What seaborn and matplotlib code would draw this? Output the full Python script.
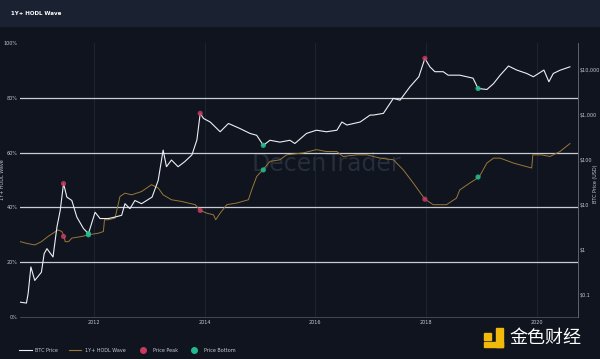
import numpy as np
import pandas as pd
import matplotlib
matplotlib.use("Agg")
import matplotlib.pyplot as plt
from matplotlib.lines import Line2D
from matplotlib.patches import Rectangle
import seaborn as sns

# BTC price (USD)
price_year = [2010.67, 2010.78, 2010.81, 2010.86, 2010.93, 2011.05, 2011.10, 2011.15, 2011.26, 2011.33,
              2011.39, 2011.45, 2011.51, 2011.60, 2011.69, 2011.81, 2011.90, 2012.02, 2012.11, 2012.26,
              2012.38, 2012.50, 2012.56, 2012.65, 2012.74, 2012.86, 2013.05, 2013.16, 2013.25, 2013.31,
              2013.40, 2013.52, 2013.64, 2013.77, 2013.86, 2013.92, 2013.98, 2014.10, 2014.28, 2014.43,
              2014.64, 2014.82, 2014.94, 2015.06, 2015.18, 2015.36, 2015.54, 2015.63, 2015.84, 2016.02,
              2016.20, 2016.39, 2016.48, 2016.57, 2016.81, 2016.99, 2017.05, 2017.23, 2017.41, 2017.53,
              2017.71, 2017.87, 2017.98, 2018.07, 2018.16, 2018.31, 2018.40, 2018.61, 2018.85, 2018.94,
              2019.10, 2019.22, 2019.34, 2019.49, 2019.64, 2019.82, 2019.94, 2020.13, 2020.22, 2020.30,
              2020.42, 2020.60]
price_usd = [0.069, 0.066, 0.107, 0.42, 0.21, 0.32, 0.83, 1.07, 0.70, 3.2,
             7.6, 30, 15, 12.6, 5.4, 3.0, 2.3, 6.9, 5.0, 5.0,
             5.4, 5.9, 10.7, 8.3, 12.6, 10.7, 15, 35, 166, 71,
             100, 71, 92, 130, 280, 1090, 840, 700, 425, 650,
             500, 390, 355, 212, 275, 250, 275, 233, 390, 460,
             425, 460, 700, 600, 700, 1000, 1000, 1090, 2350, 2140,
             4250, 7100, 18200, 11800, 9200, 9200, 7700, 7700, 6600, 3900,
             3700, 5000, 7700, 12300, 10000, 8400, 7100, 10000, 5500, 8400,
             9900, 11800]

# 1Y+ HODL wave (%)
hodl_year = [2010.67, 2010.78, 2010.93, 2011.05, 2011.17, 2011.35, 2011.42, 2011.46, 2011.48, 2011.54,
             2011.60, 2011.78, 2011.90, 2012.08, 2012.17, 2012.19, 2012.26, 2012.38, 2012.47, 2012.56,
             2012.68, 2012.86, 2013.04, 2013.16, 2013.25, 2013.40, 2013.58, 2013.83, 2013.92, 2014.04,
             2014.16, 2014.20, 2014.28, 2014.40, 2014.58, 2014.79, 2014.85, 2014.94, 2015.05, 2015.18,
             2015.36, 2015.48, 2015.78, 2016.02, 2016.20, 2016.39, 2016.50, 2016.75, 2016.93, 2017.17,
             2017.41, 2017.59, 2017.77, 2017.98, 2018.13, 2018.37, 2018.55, 2018.61, 2018.79, 2018.96,
             2019.10, 2019.22, 2019.34, 2019.58, 2019.76, 2019.91, 2019.93, 2020.09, 2020.24, 2020.42,
             2020.60]
hodl_pct = [27.5, 26.9, 26.3, 27.5, 29.4, 31.8, 31.2, 29.4, 27.5, 27.5,
            28.8, 29.4, 30.0, 30.6, 31.2, 35.5, 35.5, 36.1, 44.0, 45.2,
            44.6, 45.8, 48.3, 47.1, 44.6, 42.8, 42.2, 41.0, 38.9, 37.9,
            37.3, 35.5, 37.9, 41.0, 41.6, 42.8, 46.4, 51.3, 53.7, 56.8,
            57.4, 59.2, 59.9, 61.1, 60.4, 60.4, 58.6, 59.2, 59.2, 58.0,
            57.4, 53.7, 48.9, 43.0, 41.0, 41.0, 43.4, 46.4, 48.9, 51.1,
            56.2, 58.0, 58.0, 56.2, 55.2, 54.4, 59.2, 59.2, 58.6, 60.4,
            63.3]

# cycle peaks and bottoms
peak_year = [2011.45, 2013.92, 2017.98]
peak_price = [30, 1090, 18200]
peak_hodl = [29.4, 38.9, 43.0]
bottom_year = [2011.90, 2015.06, 2018.94]
bottom_price = [2.3, 212, 3900]
bottom_hodl = [30.0, 53.7, 51.1]

year_ticks = [2012, 2014, 2016, 2018, 2020]
pct_ticks = [0, 20, 40, 60, 80, 100]
price_ticks = [0.1, 1, 10, 100, 1000, 10000]
price_labels = ["$0.1", "$1", "$10", "$100", "$1,000", "$10,000"]

bg = "#0f141e"
txt = "#c4c8d0"
peak_c = "#c83a60"
bottom_c = "#22b98c"

df_price = pd.DataFrame({"year": price_year, "price": price_usd})
df_hodl = pd.DataFrame({"year": hodl_year, "hodl": hodl_pct})

fig = plt.figure(figsize=(6, 3.59), dpi=100, facecolor=bg)
fig.patches.append(Rectangle((0, 0.927), 1, 0.073, transform=fig.transFigure,
                             color="#1a2232", zorder=0))
fig.text(0.018, 0.962, "1Y+ HODL Wave", color="white", fontsize=4,
         fontweight="bold", va="center")

ax = fig.add_axes([0.0333, 0.117, 0.93, 0.763])
ax.set_facecolor(bg)
ax2 = ax.twinx()

# watermark
ax.text(0.55, 0.558, "DecenTrader", transform=ax.transAxes, color="#262d3b",
        fontsize=17, ha="center", va="center", zorder=0)

sns.lineplot(data=df_hodl, x="year", y="hodl", ax=ax, color="#9a7838",
             linewidth=0.7, zorder=3)
sns.scatterplot(x=peak_year, y=peak_hodl, ax=ax, color=peak_c, s=14,
                alpha=0.85, edgecolor="none", zorder=4)
sns.scatterplot(x=bottom_year, y=bottom_hodl, ax=ax, color=bottom_c, s=14,
                alpha=0.9, edgecolor="none", zorder=4)

sns.lineplot(data=df_price, x="year", y="price", ax=ax2, color="#eceef2",
             linewidth=0.8, zorder=3)
sns.scatterplot(x=peak_year, y=peak_price, ax=ax2, color=peak_c, s=14,
                alpha=0.85, edgecolor="none", zorder=4)
sns.scatterplot(x=bottom_year, y=bottom_price, ax=ax2, color=bottom_c, s=14,
                alpha=0.9, edgecolor="none", zorder=4)

ax.set_xlim(2010.663, 2020.746)
ax.set_ylim(0, 100)
ax2.set_yscale("log")
ax2.set_ylim(10 ** -1.49, 10 ** 4.6)

ax.set_xticks(year_ticks)
ax.set_xticklabels([str(y) for y in year_ticks])
ax.set_yticks(pct_ticks)
ax.set_yticklabels([f"{p}%" for p in pct_ticks])
ax2.set_yticks(price_ticks)
ax2.set_yticklabels(price_labels)
ax2.minorticks_off()

ax.grid(axis="y", color="#c8ccd4", linewidth=0.9)
ax.grid(axis="x", color="#1d2431", linewidth=0.8)
gls = ax.yaxis.get_gridlines()
gls[0].set_visible(False)
gls[-1].set_visible(False)
ax.set_axisbelow(True)

for a in (ax, ax2):
    a.tick_params(length=0, labelsize=3.5, colors=txt)
    for s in a.spines.values():
        s.set_visible(False)
    a.set_xlabel("")
ax.tick_params(axis="y", pad=2)
ax.tick_params(axis="x", pad=2.5)
ax2.tick_params(axis="y", pad=1.5)
ax2.spines["right"].set_visible(True)
ax2.spines["right"].set_color("#6a7080")
ax2.spines["right"].set_linewidth(0.6)
ax.spines["bottom"].set_visible(True)
ax.spines["bottom"].set_color("#4a5060")
ax.spines["bottom"].set_linewidth(0.6)

ax.set_ylabel("1Y+ HODL Wave", fontsize=3.5, color=txt)
ax.yaxis.set_label_coords(-0.026, 0.5)
ax2.set_ylabel("BTC Price (USD)", fontsize=3.5, color=txt)
ax2.yaxis.set_label_coords(1.027, 0.485)

handles = [Line2D([], [], color="#eceef2", linewidth=0.8),
           Line2D([], [], color="#9a7838", linewidth=0.8),
           Line2D([], [], marker="o", linestyle="", color=peak_c, markersize=4),
           Line2D([], [], marker="o", linestyle="", color=bottom_c, markersize=4)]
fig.legend(handles, ["BTC Price", "1Y+ HODL Wave", "Price Peak", "Price Bottom"],
           loc="center left", bbox_to_anchor=(0.025, 0.025), ncol=4, frameon=False,
           fontsize=3.5, labelcolor=txt, handlelength=2.5, columnspacing=2.2,
           handletextpad=0.8)

# site watermark
gold = "#f0b90b"
fig.patches.append(Rectangle((0.807, 0.053), 0.011, 0.02, transform=fig.transFigure,
                             color=gold))
fig.patches.append(Rectangle((0.826, 0.033), 0.012, 0.053, transform=fig.transFigure,
                             color=gold))
fig.patches.append(Rectangle((0.807, 0.033), 0.031, 0.014, transform=fig.transFigure,
                             color=gold))
fig.text(0.849, 0.058, "金色财经", color="white", fontsize=13,
         family=["Noto Sans CJK SC", "DejaVu Sans"], va="center")

fig.savefig("out.png", dpi=100, facecolor=bg)
